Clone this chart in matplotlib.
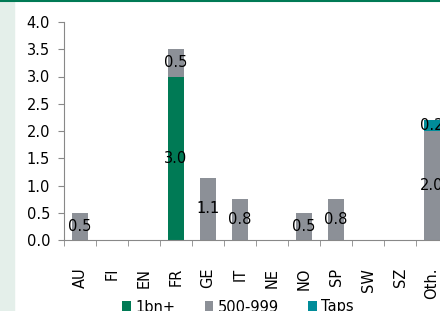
import matplotlib.pyplot as plt
import matplotlib.patches as mpatches
import numpy as np

plt.rcParams['font.family'] = ['DejaVu Sans']

countries = ['AU', 'FI', 'EN', 'FR', 'GE', 'IT', 'NE', 'NO', 'SP', 'SW', 'SZ', 'Oth.']
big = [0, 0, 0, 3.0, 0, 0, 0, 0, 0, 0, 0, 0]
mid = [0.5, 0, 0, 0.5, 1.14, 0.75, 0, 0.5, 0.75, 0, 0, 2.0]
taps = [0, 0, 0, 0, 0, 0, 0, 0, 0, 0, 0, 0.2]
series_names = ['1bn+', '500-999', 'Taps']
colors = ['#007a55', '#8c9097', '#008c99']

fs = 10.5

fig = plt.figure(figsize=(4.4, 3.11), dpi=100)
fig.patches.append(mpatches.Rectangle((0, 0), 14 / 440, 1, transform=fig.transFigure,
                                      color='#e4efea', zorder=0))
fig.add_artist(plt.Line2D([0, 1], [0.998, 0.998], transform=fig.transFigure,
                          color='#007a55', lw=1.5))

# axes runs a bit past the right edge, like the cropped original
ax = fig.add_axes([64 / 440, 71 / 311, 384 / 440, 218 / 311])
x = np.arange(len(countries))
bottom = np.zeros(len(countries))
for vals, name, c in zip([big, mid, taps], series_names, colors):
    vals = np.array(vals)
    ax.bar(x, vals, 0.47, bottom=bottom, color=c, label=name)
    for xi, b, v in zip(x, bottom, vals):
        if v > 0:
            ax.text(xi, b + v / 2, '%.1f' % v, ha='center', va='center', fontsize=fs)
    bottom += vals

ax.set_xlim(-0.5, len(countries) - 0.5)
ax.set_ylim(0, 4.0)
ax.set_yticks(np.arange(0, 4.01, 0.5))
ax.set_yticklabels(['%.1f' % t for t in np.arange(0, 4.01, 0.5)], fontsize=fs)
ax.set_xticks(x)
ax.set_xticklabels(countries, rotation=90, fontsize=fs)
ax.set_xticks(np.arange(-0.5, len(countries), 1), minor=True)
ax.tick_params(axis='x', which='major', length=0, pad=20)
ax.tick_params(axis='x', which='minor', length=4, color='#888888')
ax.tick_params(axis='y', length=4, color='#888888', pad=6)
for s in ['top', 'right']:
    ax.spines[s].set_visible(False)
for s in ['left', 'bottom']:
    ax.spines[s].set_color('#888888')

ax.legend(loc='center', bbox_to_anchor=(238 / 440, 4 / 311), bbox_transform=fig.transFigure,
          ncol=3, frameon=False, fontsize=fs, handlelength=0.6, handleheight=0.7,
          handletextpad=0.3, columnspacing=2.0, borderpad=0, borderaxespad=0)

fig.savefig('out.png', dpi=100)
